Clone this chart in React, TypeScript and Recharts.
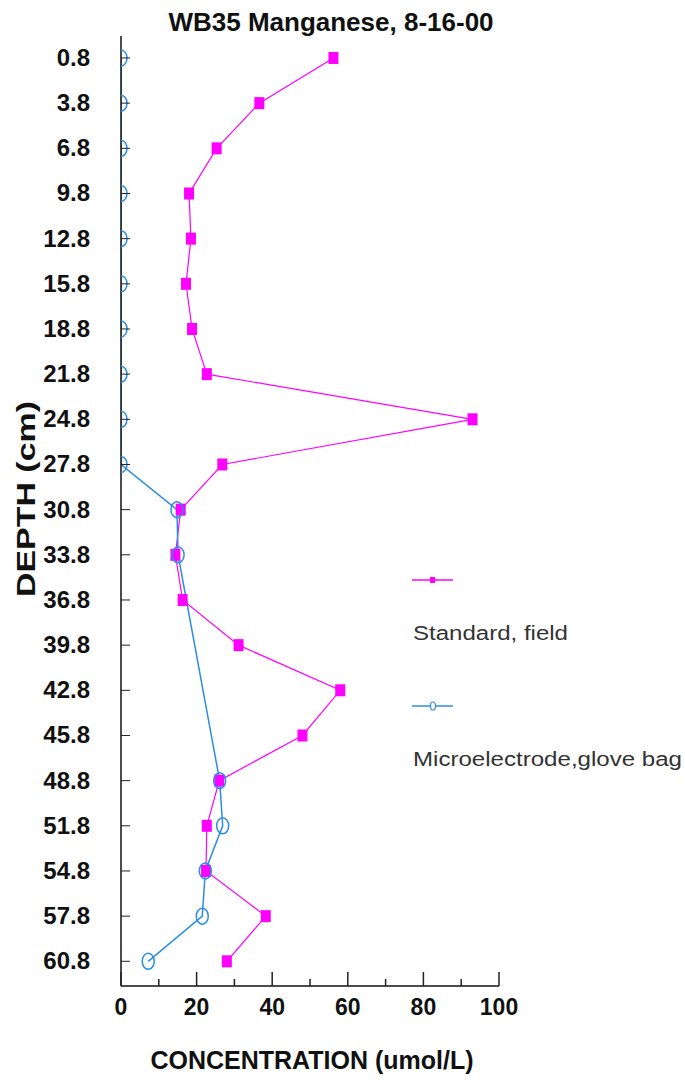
import React from "react"
import { LineChart, Line, XAxis, YAxis } from "recharts"

// depth of each sample (cm) — also the y tick labels
const depths = [0.8, 3.8, 6.8, 9.8, 12.8, 15.8, 18.8, 21.8, 24.8, 27.8, 30.8, 33.8, 36.8, 39.8, 42.8, 45.8, 48.8, 51.8, 54.8, 57.8, 60.8]

// Mn concentration, umol/L
const standardField = [56.2, 36.6, 25.3, 18.0, 18.5, 17.2, 18.8, 22.7, 93.0, 26.8, 15.8, 14.4, 16.3, 31.1, 58.0, 48.0, 26.0, 22.7, 22.5, 38.3, 28.0]
const microGloveBag = [0, 0, 0, 0, 0, 0, 0, 0, 0, 0, 14.8, 15.1, null, null, null, null, 26.1, 26.9, 22.3, 21.5, 7.2]

const concentrationTicks = [0, 10, 20, 30, 40, 50, 60, 70, 80, 90, 100]

const MAGENTA = "#ff00ff"
const BLUE = "#2b8ce6"
const FONT = "'Liberation Sans', Arial, sans-serif"

const data = depths.map((d, i) => ({
  depth: d,
  standard: standardField[i],
  micro: microGloveBag[i],
}))

function DepthTick({ x, y, payload }: any) {
  return (
    <g>
      <line x1={x} y1={y} x2={x + 9} y2={y} stroke="#222" strokeWidth={1} />
      <text x={x - 31} y={y + 8} textAnchor="end" fontFamily={FONT} fontWeight="bold" fontSize={24} fill="#111">
        {payload.value.toFixed(1)}
      </text>
    </g>
  )
}

function ConcTick({ x, y, payload }: any) {
  const major = payload.value % 20 === 0
  return (
    <g>
      <line x1={x} y1={y} x2={x} y2={y - (major ? 14 : 7)} stroke="#222" strokeWidth={1.5} />
      {major && (
        <text x={x} y={y + 29} textAnchor="middle" fontFamily={FONT} fontWeight="bold" fontSize={23} fill="#111">
          {payload.value}
        </text>
      )}
    </g>
  )
}

function SquareDot({ cx, cy, index }: any) {
  if (cx == null || cy == null) return null
  return <rect key={`s${index}`} x={cx - 5} y={cy - 6} width={10} height={12} fill={MAGENTA} />
}

// open ovals; the ones sitting on the axis (value 0) only show their right half
function OvalDot({ cx, cy, index, value }: any) {
  if (cx == null || cy == null || value == null) return null
  const rx = 6
  const ry = 8
  if (value <= 0) {
    return (
      <path
        key={`o${index}`}
        d={`M${cx},${cy - ry} A${rx},${ry} 0 0 1 ${cx},${cy + ry}`}
        fill="none"
        stroke={BLUE}
        strokeWidth={1.5}
      />
    )
  }
  return <ellipse key={`o${index}`} cx={cx} cy={cy} rx={rx} ry={ry} fill="none" stroke={BLUE} strokeWidth={1.5} />
}

export default function App() {
  return (
    <div style={{ position: "absolute", left: 0, top: 0, background: "#fff" }}>
      <LineChart
        width={685}
        height={1081}
        data={data}
        layout="vertical"
        margin={{ top: 36, right: 186, bottom: 0, left: 0 }}
      >
        <XAxis
          type="number"
          domain={[0, 100]}
          ticks={concentrationTicks}
          interval={0}
          allowDataOverflow
          height={95}
          tickSize={0}
          tickMargin={0}
          tick={<ConcTick />}
          axisLine={{ stroke: "#111", strokeWidth: 1.5 }}
        />
        <YAxis
          type="number"
          dataKey="depth"
          domain={[-0.66, 62.44]}
          ticks={depths}
          interval={0}
          width={121}
          tickSize={0}
          tickMargin={0}
          tick={<DepthTick />}
          axisLine={{ stroke: "#111", strokeWidth: 1.5 }}
        />
        <Line
          dataKey="standard"
          stroke={MAGENTA}
          strokeWidth={1.2}
          dot={SquareDot}
          activeDot={false}
          isAnimationActive={false}
        />
        <Line
          dataKey="micro"
          stroke={BLUE}
          strokeWidth={1.5}
          dot={OvalDot}
          activeDot={false}
          connectNulls
          isAnimationActive={false}
        />

        <text x={331} y={31} textAnchor="middle" fontFamily={FONT} fontWeight="bold" fontSize={26} fill="#111">
          WB35 Manganese, 8-16-00
        </text>
        <text x={312} y={1069} textAnchor="middle" fontFamily={FONT} fontWeight="bold" fontSize={25} fill="#111">
          CONCENTRATION (umol/L)
        </text>
        <text
          transform="translate(35,499) rotate(-90)"
          textAnchor="middle"
          fontFamily={FONT}
          fontWeight="bold"
          fontSize={25}
          fill="#111"
          textLength={196}
          lengthAdjust="spacingAndGlyphs"
        >
          DEPTH (cm)
        </text>

        <g>
          <line x1={412} y1={580} x2={453} y2={580} stroke={MAGENTA} strokeWidth={1.5} />
          <rect x={430} y={577} width={5} height={6} fill={MAGENTA} />
          <text x={413} y={640} fontFamily={FONT} fontSize={20} fill="#333" textLength={155} lengthAdjust="spacingAndGlyphs">
            Standard, field
          </text>
          <line x1={412} y1={706} x2={453} y2={706} stroke={BLUE} strokeWidth={1.5} />
          <ellipse cx={433} cy={706} rx={2.5} ry={4} fill="#fff" stroke={BLUE} strokeWidth={1.2} />
          <text x={413} y={766} fontFamily={FONT} fontSize={20} fill="#333" textLength={269} lengthAdjust="spacingAndGlyphs">
            Microelectrode,glove bag
          </text>
        </g>
      </LineChart>
    </div>
  )
}
